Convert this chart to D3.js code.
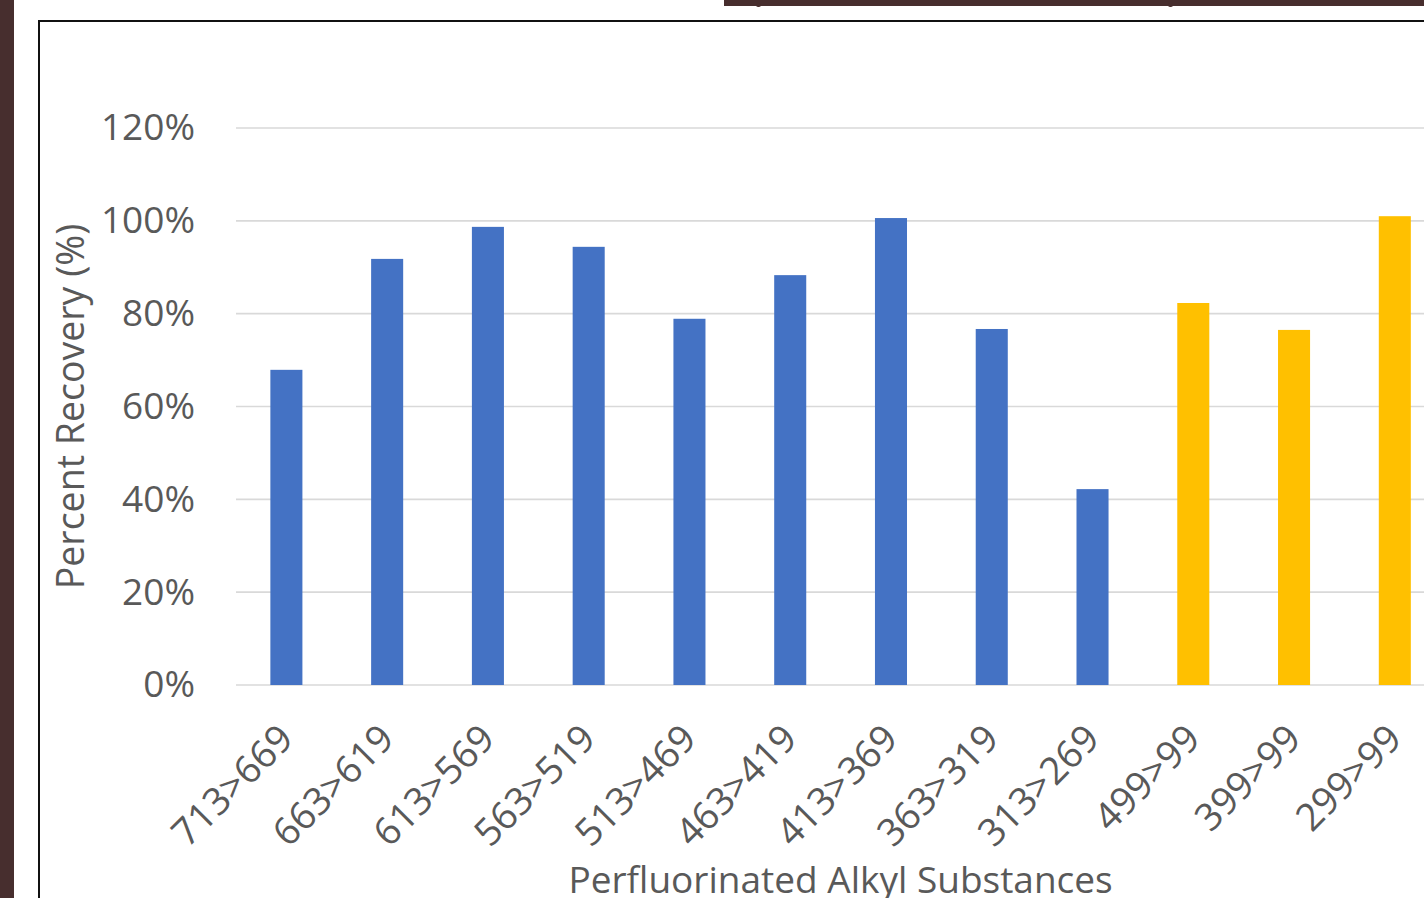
<!DOCTYPE html>
<html>
<head>
<meta charset="utf-8">
<script src="https://cdn.jsdelivr.net/npm/d3@7"></script>
<style>
  html, body { margin: 0; padding: 0; background: #ffffff; overflow: hidden; }
  svg { display: block; }
</style>
</head>
<body>
<svg id="chart" width="1424" height="898"></svg>
<script>
// Transitions monitored, in plotting order
const categories = ["713>669", "663>619", "613>569", "563>519", "513>469", "463>419",
                    "413>369", "363>319", "313>269", "499>99", "399>99", "299>99"];
// Percent recovery for each transition
const recovery = [67.9, 91.8, 98.7, 94.4, 78.9, 88.3, 100.6, 76.7, 42.2, 82.3, 76.5, 101.0];
// Which colour group each bar belongs to
const group = [0, 0, 0, 0, 0, 0, 0, 0, 0, 1, 1, 1];
const groupColors = ["#4472C4", "#FFC000"];
// Value axis ticks
const yTicks = [0, 20, 40, 60, 80, 100, 120];

const svg = d3.select("#chart");
const textColor = "#595959";
const font = "'Open Sans', 'Noto Sans', sans-serif";

// Slide background decorations
svg.append("rect").attr("x", 0).attr("y", 0).attr("width", 14).attr("height", 898).attr("fill", "#472e2e");
svg.append("rect").attr("x", 724).attr("y", 0).attr("width", 700).attr("height", 6).attr("fill", "#472e2e");
svg.append("rect").attr("x", 756).attr("y", 3).attr("width", 5).attr("height", 4).attr("rx", 2).attr("fill", "#472e2e");
svg.append("rect").attr("x", 1168).attr("y", 3).attr("width", 5).attr("height", 4).attr("rx", 2).attr("fill", "#472e2e");

// Chart frame
svg.append("rect")
  .attr("x", 39).attr("y", 21)
  .attr("width", 1500).attr("height", 1000)
  .attr("fill", "#ffffff")
  .attr("stroke", "#111111").attr("stroke-width", 2);

// Plot area
const plotLeft = 236, plotRight = 1445.2, plotTop = 128, plotBottom = 685;

const x = d3.scaleBand()
  .domain(categories)
  .range([plotLeft, plotRight])
  .paddingInner(0.682)
  .paddingOuter(0.341);

const y = d3.scaleLinear()
  .domain([0, 120])
  .range([plotBottom, plotTop]);

// Gridlines
svg.append("g")
  .selectAll("line")
  .data(yTicks)
  .join("line")
  .attr("x1", plotLeft).attr("x2", plotRight)
  .attr("y1", d => y(d)).attr("y2", d => y(d))
  .attr("stroke", "#d9d9d9").attr("stroke-width", 1.6);

// Bars
svg.append("g")
  .selectAll("rect")
  .data(categories)
  .join("rect")
  .attr("x", d => x(d))
  .attr("width", x.bandwidth())
  .attr("y", (d, i) => y(recovery[i]))
  .attr("height", (d, i) => y(0) - y(recovery[i]))
  .attr("fill", (d, i) => groupColors[group[i]]);

// Value axis labels
const yAxis = d3.axisLeft(y)
  .tickValues(yTicks)
  .tickFormat(d => d + "%")
  .tickSize(0)
  .tickPadding(41);
const yg = svg.append("g").attr("transform", `translate(${plotLeft},0)`).call(yAxis);
yg.select(".domain").remove();
yg.selectAll("text")
  .attr("fill", textColor)
  .style("font-family", font)
  .style("font-size", "37px");

// Category axis labels, rotated
const xAxis = d3.axisBottom(x).tickSize(0).tickPadding(0);
const xg = svg.append("g").attr("transform", `translate(0,${plotBottom})`).call(xAxis);
xg.select(".domain").remove();
xg.selectAll(".tick text")
  .attr("fill", textColor)
  .style("font-family", font)
  .style("font-size", "38px")
  .attr("text-anchor", "end")
  .attr("dy", null)
  .attr("y", 0)
  .attr("transform", "translate(9,56) rotate(-45)");

// Axis titles
svg.append("text")
  .attr("transform", `translate(84,${(plotTop + plotBottom) / 2}) rotate(-90)`)
  .attr("text-anchor", "middle")
  .attr("fill", textColor)
  .style("font-family", font)
  .style("font-size", "37.5px")
  .text("Percent Recovery (%)");

svg.append("text")
  .attr("x", (plotLeft + plotRight) / 2)
  .attr("y", 893)
  .attr("text-anchor", "middle")
  .attr("fill", textColor)
  .style("font-family", font)
  .style("font-size", "37px")
  .text("Perfluorinated Alkyl Substances");
</script>
</body>
</html>
